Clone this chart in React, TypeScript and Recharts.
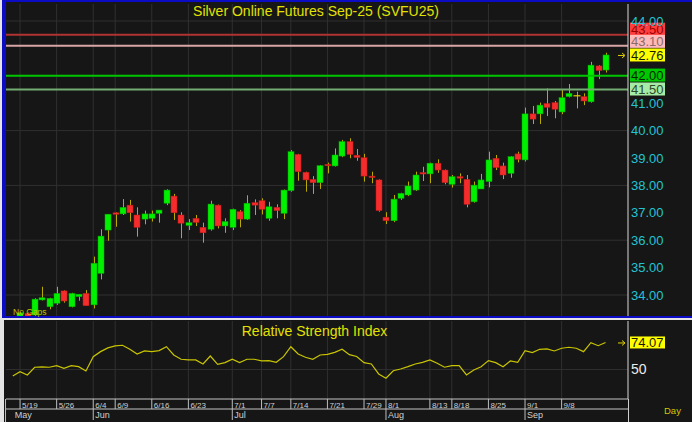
import React from 'react';
import { ComposedChart, Bar, Line, XAxis, YAxis, ReferenceLine, CartesianGrid } from 'recharts';

// ---- data ----
const OPEN = [33.15, 33.12, 33.33, 33.27, 33.82, 33.57, 33.70, 34.15, 33.57, 33.94,
  34.06, 33.64, 34.79, 36.37, 37.00, 36.96, 37.28, 36.92, 36.77, 36.80,
  36.98, 37.35, 37.61, 36.92, 36.54, 36.80, 36.47, 36.40, 37.28, 36.52,
  36.47, 37.04, 36.77, 37.37, 37.44, 36.80, 37.20, 36.98, 37.81, 39.13,
  38.48, 38.22, 38.10, 38.77, 38.71, 39.07, 39.60, 39.10, 39.01, 38.34,
  38.20, 36.84, 36.71, 37.53, 37.65, 37.83, 38.47, 38.42, 38.81, 38.56,
  38.04, 38.32, 38.22, 37.40, 37.87, 38.14, 38.99, 38.71, 38.44, 39.15,
  38.93, 40.61, 40.61, 40.99, 41.02, 40.68, 41.24, 41.27, 41.24, 41.05,
  42.36, 42.21];
const HIGH = [33.20, 33.38, 33.36, 33.88, 34.30, 33.90, 34.30, 34.17, 34.08, 34.03,
  34.18, 35.40, 36.40, 36.95, 37.02, 37.50, 37.47, 37.20, 37.08, 37.08,
  37.10, 37.86, 37.69, 37.02, 36.77, 36.92, 36.64, 37.44, 37.30, 36.80,
  37.15, 37.10, 37.64, 37.49, 37.53, 37.40, 37.31, 37.85, 39.29, 39.15,
  38.50, 38.34, 38.74, 38.83, 39.35, 39.66, 39.72, 39.33, 39.15, 38.50,
  38.22, 37.02, 37.65, 37.73, 38.14, 38.50, 38.68, 38.83, 38.95, 38.58,
  38.38, 38.44, 38.38, 38.14, 38.42, 39.23, 39.11, 38.83, 39.07, 39.23,
  40.84, 40.90, 41.02, 41.54, 41.08, 41.48, 41.70, 41.42, 41.36, 42.51,
  42.39, 42.84];
const LOW = [32.95, 33.05, 33.10, 33.20, 33.80, 33.48, 33.64, 33.72, 33.55, 33.79,
  33.60, 33.51, 34.57, 35.98, 36.49, 36.92, 36.68, 36.13, 36.58, 36.68,
  36.64, 37.28, 36.74, 36.07, 36.37, 36.52, 35.91, 36.35, 36.43, 36.27,
  36.37, 36.47, 36.74, 36.92, 36.94, 36.71, 36.80, 36.77, 37.77, 38.17,
  37.77, 37.69, 37.87, 38.44, 38.69, 39.03, 38.99, 38.90, 38.14, 38.08,
  37.04, 36.59, 36.66, 37.47, 37.61, 37.80, 38.16, 38.08, 38.46, 38.04,
  37.92, 38.08, 37.20, 37.37, 37.87, 37.93, 38.56, 38.23, 38.28, 38.84,
  38.87, 40.24, 40.24, 40.53, 40.45, 40.60, 41.21, 40.81, 40.93, 41.02,
  41.88, 42.12];
const CLOSE = [33.00, 33.35, 33.15, 33.85, 33.90, 33.88, 34.06, 33.78, 34.06, 34.03,
  33.61, 35.16, 36.15, 36.95, 36.95, 37.20, 37.00, 36.47, 36.96, 36.96,
  37.10, 37.83, 37.00, 36.62, 36.64, 36.65, 36.27, 37.32, 36.52, 36.68,
  37.13, 36.77, 37.35, 37.28, 37.13, 37.22, 37.08, 37.83, 39.23, 38.50,
  38.20, 38.10, 38.72, 38.72, 39.11, 39.60, 39.13, 39.02, 38.34, 38.29,
  37.08, 36.71, 37.50, 37.71, 37.98, 38.38, 38.44, 38.81, 38.56, 38.10,
  38.32, 38.27, 37.31, 38.01, 38.20, 38.93, 38.65, 38.38, 39.05, 38.95,
  40.61, 40.42, 40.93, 40.85, 40.78, 41.20, 41.36, 41.27, 41.08, 42.39,
  42.19, 42.76];
const RSI = [44.2, 48.0, 45.1, 52.0, 52.3, 52.0, 53.4, 51.0, 53.4, 52.5,
  48.7, 61.4, 65.9, 69.2, 71.0, 71.6, 68.0, 63.8, 66.5, 65.9,
  66.8, 70.3, 62.9, 59.1, 58.5, 58.5, 54.9, 62.0, 54.6, 56.1,
  59.1, 56.1, 59.1, 59.1, 57.6, 57.9, 56.4, 61.4, 70.3, 63.8,
  60.9, 59.1, 62.9, 63.5, 65.3, 68.0, 63.2, 61.6, 56.1, 54.9,
  46.0, 42.2, 48.9, 50.4, 52.5, 54.9, 56.4, 58.5, 55.5, 52.0,
  53.4, 53.4, 45.1, 49.6, 52.5, 57.9, 56.1, 52.5, 57.6, 56.4,
  66.8, 65.0, 68.0, 68.3, 66.5, 68.9, 69.8, 68.9, 65.9, 73.9,
  71.2, 74.07];

const DATE_TICK_INDEX = [1, 6, 11, 14, 19, 24, 30, 34, 38, 43, 48, 51, 57, 60, 65, 70, 75];
const DATE_TICK_LABELS = ['5/19', '5/26', '6/4', '6/9', '6/16', '6/23', '7/1', '7/7', '7/14', '7/21', '7/29', '8/1', '8/13', '8/18', '8/25', '9/1', '9/8'];
const MONTH_TICK_INDEX = [0, 11, 30, 51, 70];
const MONTH_LABELS = ['May', 'Jun', 'Jul', 'Aug', 'Sep'];
const PRICE_TICKS = [34, 35, 36, 37, 38, 39, 40, 41, 44];
const PRICE_GRID = [34, 36, 38, 40, 42, 44];
const PRICE_LEVELS = [43.5, 43.1, 42.0, 41.5];
const RSI_TICKS = [50];
const RSI_GRID = [50];
const LAST_PRICE = CLOSE[CLOSE.length - 1];
const LAST_RSI = RSI[RSI.length - 1];
const TITLE = 'Silver Online Futures Sep-25 (SVFU25)';
const RSI_TITLE = 'Relative Strength Index';

// ---- styles / layout ----
const FONT = "'Liberation Sans', Arial, Helvetica, sans-serif";
const X_DOMAIN: [number, number] = [-0.92, 84.07];
const P_DOMAIN: [number, number] = [33.234, 44.62];
const R_DOMAIN: [number, number] = [23.7, 93.2];
const BG = '#161616';
const GRID = '#303030';
const LEVEL_STYLES = [
  { line: '#b03232', bg: '#ff3d3d', fg: '#9a0000', dy: -5.5 },
  { line: '#d8a6a6', bg: '#ffbaba', fg: '#8a6a6a', dy: -4.3 },
  { line: '#00c400', bg: '#00c800', fg: '#002800', dy: -0.7 },
  { line: '#72ac72', bg: '#a6eca6', fg: '#2c4a2c', dy: -0.5 },
];

const range = (a: number, b: number, s: number) => {
  const out: number[] = [];
  for (let v = a; v <= b + 1e-9; v += s) out.push(Math.round(v * 100) / 100);
  return out;
};
const PRICE_MINOR = range(33.4, 44.6, 0.2);
const PRICE_MAJOR = range(34, 44, 1);
const RSI_MINOR = range(25, 90, 5);

const candles = OPEN.map((o, i) => ({ i, o, h: HIGH[i], l: LOW[i], c: CLOSE[i], range: [LOW[i], HIGH[i]] }));
const rsiRows = RSI.map((r, i) => ({ i, rsi: r }));

function Candle(props: any) {
  const { x, y, width, height, payload } = props;
  if (x == null || y == null || !payload) return null;
  const { o, h, l, c } = payload;
  const cx = Math.round(x + width / 2) + 0.5;
  const k = h > l ? height / (h - l) : 0;
  const yOf = (v: number) => y + (h - v) * k;
  const top = yOf(Math.max(o, c));
  const bot = yOf(Math.min(o, c));
  const bw = 6;
  const bx = cx - 3.5;
  return (
    <g>
      <line x1={cx} x2={cx} y1={y} y2={y + height} stroke="#b8aa00" strokeWidth={1} />
      {c === o ? (
        <line x1={bx - 0.5} x2={bx + bw + 0.5} y1={top} y2={top} stroke="#e0d000" strokeWidth={1.2} />
      ) : (
        <rect x={bx} y={top} width={bw} height={Math.max(bot - top, 1.5)}
          fill={c > o ? '#00f000' : '#f42c2c'} stroke={c > o ? '#00a800' : '#c01818'} strokeWidth={0.5} />
      )}
    </g>
  );
}

function LevelBox(props: any) {
  const { viewBox, text, bg, fg, dy = 0, h = 13, marker } = props;
  if (!viewBox) return null;
  const right = viewBox.x + viewBox.width;
  const cy = viewBox.y + dy;
  const bx = right + 2;
  return (
    <g>
      {marker && (
        <path d={`M${right - 10} ${cy + 0.5}h6 M${right - 6} ${cy - 2}l3 2.5l-3 2.5`} stroke="#e0d000" strokeWidth={1} fill="none" />
      )}
      <rect x={bx} y={cy - h / 2} width={35} height={h} fill={bg} />
      <text x={bx + 1} y={cy} dy="0.36em" fontSize={13} fill={fg} fontFamily={FONT}>{text}</text>
    </g>
  );
}

function DateTick(props: any) {
  const { x, y, payload } = props;
  const k = DATE_TICK_INDEX.indexOf(payload.value);
  return (
    <g>
      <line x1={x} x2={x} y1={y} y2={y + 10} stroke="#bdbdbd" strokeWidth={1} />
      <text x={x + 2} y={y + 9} fontSize={8} fill="#d0d0d0" fontFamily={FONT}>{DATE_TICK_LABELS[k]}</text>
    </g>
  );
}

function MonthTick(props: any) {
  const { x, y, payload } = props;
  const k = MONTH_TICK_INDEX.indexOf(payload.value);
  return (
    <g>
      {k > 0 && <line x1={x} x2={x} y1={y} y2={y + 11} stroke="#bdbdbd" strokeWidth={1} />}
      <text x={x + 2} y={y + 9.3} fontSize={9} fill="#d0d0d0" fontFamily={FONT}>{MONTH_LABELS[k]}</text>
    </g>
  );
}

export default function App() {
  return (
    <div style={{ position: 'relative', width: 692, height: 422, background: '#e4e4e4', overflow: 'hidden' }}>
      <style>{`body{margin:0}`}</style>
      {/* main panel frame */}
      <div style={{ position: 'absolute', left: 2, top: 0, width: 690, height: 318, background: BG, boxSizing: 'border-box', borderTop: '2px solid #0c0cc4', borderBottom: '2px solid #0c0cc4', borderLeft: '4px solid #0c0cc4' }} />
      {/* rsi panel frame */}
      <div style={{ position: 'absolute', left: 4, top: 320, width: 688, height: 102, background: BG }} />
      <div style={{ position: 'absolute', left: 5, top: 399, width: 1, height: 23, background: '#bdbdbd' }} />
      <div style={{ position: 'absolute', left: 628, top: 399, width: 1, height: 23, background: '#d0d0d0' }} />

      <div style={{ position: 'absolute', left: 0, top: 0 }}>
        <ComposedChart width={692} height={318} data={candles} margin={{ top: 4, right: 0, bottom: 2, left: 6 }}>
          <CartesianGrid stroke={GRID} horizontalValues={PRICE_GRID} verticalValues={DATE_TICK_INDEX} />
          <XAxis dataKey="i" type="number" domain={X_DOMAIN} allowDataOverflow hide ticks={DATE_TICK_INDEX} />
          <YAxis orientation="right" width={64} domain={P_DOMAIN} allowDataOverflow ticks={PRICE_TICKS} interval={0}
            tickSize={0} tickMargin={3} tickLine={false} axisLine={{ stroke: '#d8d8d8' }}
            tick={{ fill: '#22c4d4', fontSize: 13, fontFamily: FONT }} tickFormatter={(v: number) => v.toFixed(2)} />
          <YAxis yAxisId="pl" orientation="left" mirror width={0} domain={P_DOMAIN} allowDataOverflow ticks={PRICE_MINOR} interval={0}
            tick={false} tickSize={2} axisLine={false} tickLine={{ stroke: '#e0e0e0' }} />
          <YAxis yAxisId="pL" orientation="left" mirror width={0} domain={P_DOMAIN} allowDataOverflow ticks={PRICE_MAJOR} interval={0}
            tick={false} tickSize={4} axisLine={false} tickLine={{ stroke: '#e0e0e0' }} />
          <YAxis yAxisId="pr" orientation="right" mirror width={0} domain={P_DOMAIN} allowDataOverflow ticks={PRICE_MINOR} interval={0}
            tick={false} tickSize={3} axisLine={false} tickLine={{ stroke: '#e0e0e0' }} />
          <YAxis yAxisId="pR" orientation="right" mirror width={0} domain={P_DOMAIN} allowDataOverflow ticks={PRICE_MAJOR} interval={0}
            tick={false} tickSize={5} axisLine={false} tickLine={{ stroke: '#e0e0e0' }} />
          <Bar dataKey="range" barSize={6} isAnimationActive={false} shape={(p: any) => <Candle {...p} />} />
          {PRICE_LEVELS.map((v, k) => (
            <ReferenceLine key={v} y={v} stroke={LEVEL_STYLES[k].line} strokeWidth={2}
              label={<LevelBox text={v.toFixed(2)} bg={LEVEL_STYLES[k].bg} fg={LEVEL_STYLES[k].fg} dy={LEVEL_STYLES[k].dy} />} />
          ))}
          <ReferenceLine y={LAST_PRICE} stroke="none" strokeWidth={0}
            label={<LevelBox text={LAST_PRICE.toFixed(2)} bg="#ffff00" fg="#1a1a00" dy={0} marker />} />
        </ComposedChart>
      </div>

      <div style={{ position: 'absolute', left: 0, top: 320 }}>
        <ComposedChart width={692} height={102} data={rsiRows} margin={{ top: 1, right: 0, bottom: 2, left: 6 }}>
          <CartesianGrid stroke={GRID} horizontalValues={RSI_GRID} verticalValues={DATE_TICK_INDEX} />
          <XAxis dataKey="i" type="number" domain={X_DOMAIN} allowDataOverflow ticks={DATE_TICK_INDEX} interval={0}
            height={10} tickSize={0} tickMargin={0} tickLine={false} axisLine={{ stroke: '#c4c4c4' }}
            tick={(p: any) => <DateTick {...p} />} />
          <XAxis xAxisId="m" dataKey="i" type="number" domain={X_DOMAIN} allowDataOverflow ticks={MONTH_TICK_INDEX} interval={0}
            height={11} tickSize={0} tickMargin={0} tickLine={false} axisLine={{ stroke: '#c4c4c4' }}
            tick={(p: any) => <MonthTick {...p} />} />
          <YAxis orientation="right" width={64} domain={R_DOMAIN} allowDataOverflow ticks={RSI_TICKS} interval={0}
            tickSize={0} tickMargin={3} tickLine={false} axisLine={{ stroke: '#d8d8d8' }}
            tick={{ fill: '#ececec', fontSize: 14, fontFamily: FONT }} />
          <YAxis yAxisId="rl" orientation="left" mirror width={0} domain={R_DOMAIN} allowDataOverflow ticks={RSI_MINOR} interval={0}
            tick={false} tickSize={3} axisLine={false} tickLine={{ stroke: '#e0e0e0' }} />
          <YAxis yAxisId="rr" orientation="right" mirror width={0} domain={R_DOMAIN} allowDataOverflow ticks={RSI_MINOR} interval={0}
            tick={false} tickSize={3} axisLine={false} tickLine={{ stroke: '#e0e0e0' }} />
          <Line dataKey="rsi" type="linear" stroke="#c8c400" strokeWidth={1.2} dot={false} isAnimationActive={false} />
          <ReferenceLine y={LAST_RSI} stroke="none" strokeWidth={0}
            label={<LevelBox text={LAST_RSI.toFixed(2)} bg="#ffff00" fg="#1a1a00" dy={0} h={12} marker />} />
        </ComposedChart>
      </div>

      <svg width={692} height={422} style={{ position: 'absolute', left: 0, top: 0, pointerEvents: 'none' }}>
        <text x={316} y={16} textAnchor="middle" fontSize={14} fill="#e2e200" fontFamily={FONT}>{TITLE}</text>
        <text x={314.5} y={335.5} textAnchor="middle" fontSize={14} fill="#e2e200" fontFamily={FONT}>{RSI_TITLE}</text>
        <text x={664} y={414} fontSize={9.5} fill="#d4c400" fontFamily={FONT}>Day</text>
        <text x={13} y={315} fontSize={8.5} fill="#c0c000" fontFamily={FONT}>No Gaps</text>
      </svg>
    </div>
  );
}
